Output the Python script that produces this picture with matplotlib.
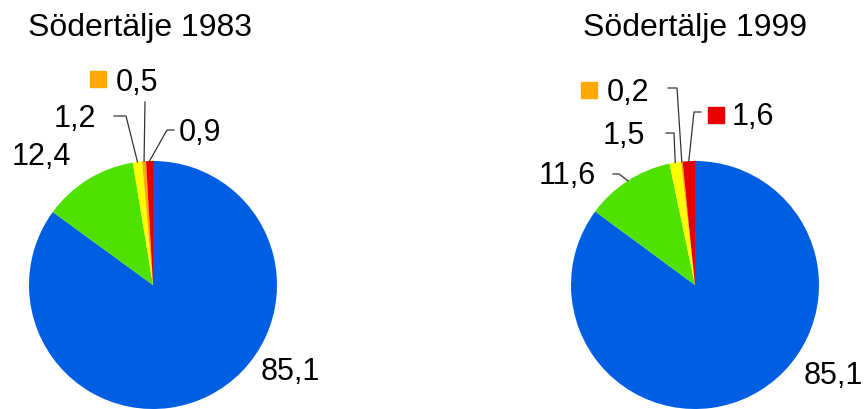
import numpy as np
import matplotlib.pyplot as plt

W, H = 868, 409

colors = ['#005EE3', '#4FE100', '#FFFF00', '#FFA800', '#E60000']
vals_1983 = [85.1, 12.4, 1.2, 0.5, 0.9]
vals_1999 = [85.1, 11.6, 1.5, 0.2, 1.6]
titles = ['Södertälje 1983', 'Södertälje 1999']

plt.rcParams['font.family'] = ['Liberation Sans', 'DejaVu Sans']

fig = plt.figure(figsize=(W / 100, H / 100), dpi=100)
ax = fig.add_axes([0, 0, 1, 1])
ax.axis('off')


def Y(y):
    return H - y


def fmt(v):
    return f'{v:.1f}'.replace('.', ',')


def mid_point(vals, i, cx, cy, r):
    tot = sum(vals)
    start = 90 - 360 * sum(vals[:i]) / tot
    ang = np.deg2rad(start - 180 * vals[i] / tot)
    return cx + r * np.cos(ang), cy + r * np.sin(ang)


# layout for each pie: center, title x, label placement (text pos, elbow, key square)
pies = [
    dict(vals=vals_1983, cx=153, title_x=28,
         labels=[
             dict(i=0, tx=261, ty=372, elbow=None),
             dict(i=1, tx=12, ty=157, elbow=None),
             dict(i=2, tx=54, ty=119, elbow=[(114, 116), (126, 116)]),
             dict(i=3, tx=116, ty=83, elbow=[(145, 102)], key=(98, 79)),
             dict(i=4, tx=179, ty=133, elbow=[(174, 130), (167, 130)]),
         ]),
    dict(vals=vals_1999, cx=695, title_x=583,
         labels=[
             dict(i=0, tx=804, ty=376, elbow=None),
             dict(i=1, tx=539, ty=176, elbow=[(613, 174), (619, 174)]),
             dict(i=2, tx=603, ty=136, elbow=[(666, 133), (674, 133)]),
             dict(i=3, tx=607, ty=93, elbow=[(668, 88), (677, 88)], key=(589, 90)),
             dict(i=4, tx=732, ty=117, elbow=[(701, 112), (694, 112)], key=(716, 115)),
         ]),
]

R = 124
for p in pies:
    cy = Y(285)
    ax.pie(p['vals'], colors=colors, startangle=90, counterclock=False,
           center=(p['cx'], cy), radius=R, frame=True,
           wedgeprops=dict(linewidth=0))
    ax.text(p['title_x'], Y(28), titles[pies.index(p)], fontsize=23,
            ha='left', va='center')
    for lab in p['labels']:
        v = p['vals'][lab['i']]
        ax.text(lab['tx'], Y(lab['ty']), fmt(v), fontsize=22,
                ha='left', va='center')
        if lab['elbow']:
            ex, ey = mid_point(p['vals'], lab['i'], p['cx'], cy, R)
            xs = [x for x, _ in lab['elbow']] + [ex]
            ys = [Y(y) for _, y in lab['elbow']] + [ey]
            ax.plot(xs, ys, color='#333333', lw=0.9, zorder=5)
        if 'key' in lab:
            kx, ky = lab['key']
            ax.plot(kx, Y(ky), marker='s', markersize=12,
                    color=colors[lab['i']], linestyle='none')

ax.set_xlim(0, W)
ax.set_ylim(0, H)
ax.set_aspect('auto')

plt.savefig('out.png', dpi=100)
